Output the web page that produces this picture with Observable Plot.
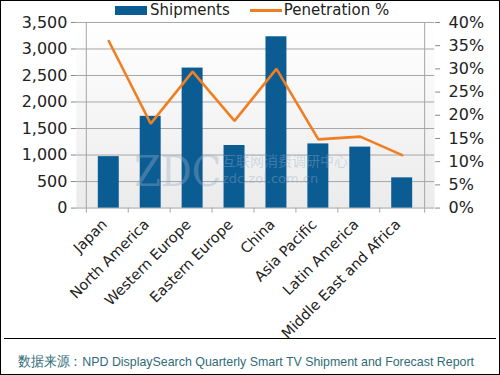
<!DOCTYPE html>
<html>
<head>
<meta charset="utf-8">
<script src="https://cdn.jsdelivr.net/npm/d3@7"></script>
<script src="https://cdn.jsdelivr.net/npm/@observablehq/plot@0.6"></script>
<style>
  html, body { margin: 0; padding: 0; background: #fff; }
  #wrap { position: relative; width: 500px; height: 375px; box-sizing: border-box; border: 1px solid #000; overflow: hidden; font-family: "DejaVu Sans", Verdana, sans-serif; }
  #chart { position: absolute; left: -1px; top: -1px; }
  #legend { position: absolute; top: 0px; left: 114px; font-size: 15px; color: #222; display: flex; align-items: center; height: 18px; }
  .sw { display: inline-block; width: 32px; height: 9px; background: #0b5c93; margin-right: 3px; }
  .ln { display: inline-block; width: 32px; height: 3px; background: #ef7f22; margin-left: 20px; margin-right: 2px; }
  #sep { position: absolute; left: 3px; right: 3px; top: 337px; border-top: 1px solid #000; }
  #caption { position: absolute; left: 17px; top: 352px; font-size: 13.5px; color: #2f6c78; font-family: "Liberation Sans", sans-serif; white-space: nowrap; transform-origin: 0 0; }
  .wm { position: absolute; color: rgba(150,175,200,0.4); pointer-events: none; white-space: nowrap; transform-origin: 0 0; }
  #wm1 { left: 133px; top: 146px; font-family: "DejaVu Serif", serif; font-size: 42px; transform: scaleX(0.92); }
  #wm2 { left: 221px; top: 151px; font-family: "Noto Sans CJK SC", sans-serif; font-size: 14px; line-height: 16px; }
  #wm3 { left: 221px; top: 170px; font-family: "DejaVu Sans", sans-serif; font-size: 13px; line-height: 15px; }
</style>
</head>
<body>
<div id="wrap">
  <div id="chart"></div>
  <div id="legend"><span class="sw"></span>Shipments<span class="ln"></span>Penetration %</div>
  <div class="wm" id="wm1">ZDC</div>
  <div class="wm" id="wm2">互联网消费调研中心</div>
  <div class="wm" id="wm3">zdc.zol.com.cn</div>
  <div id="sep"></div>
  <div id="caption">数据来源：NPD DisplaySearch Quarterly Smart TV Shipment and Forecast Report</div>
</div>
<script>
const regions = ["Japan", "North America", "Western Europe", "Eastern Europe", "China", "Asia Pacific", "Latin America", "Middle East and Africa"];
const shipments = [970, 1730, 2640, 1180, 3230, 1210, 1150, 570];
const penetration = [36.0, 18.2, 29.4, 18.8, 30.0, 14.8, 15.4, 11.4];
const leftTicks = [0, 500, 1000, 1500, 2000, 2500, 3000, 3500];
const rightTicks = [0, 5, 10, 15, 20, 25, 30, 35, 40];

const yMax = 3500, pMax = 40;
const toY = p => p * yMax / pMax;

const rows = regions.map((r, i) => ({region: r, ship: shipments[i], pen: toY(penetration[i])}));

const gradient = () => {
  const ns = "http://www.w3.org/2000/svg";
  const defs = document.createElementNS(ns, "defs");
  defs.innerHTML = '<linearGradient id="bg" x1="0" y1="0" x2="0" y2="1"><stop offset="0" stop-color="#ffffff"/><stop offset="1" stop-color="#ebebeb"/></linearGradient>';
  return defs;
};

const plot = Plot.plot({
  width: 500,
  height: 375,
  marginTop: 22,
  marginBottom: 167,
  marginLeft: 76,
  marginRight: 65,
  style: {fontFamily: "DejaVu Sans, Verdana, sans-serif", color: "#222", background: "transparent"},
  x: {domain: regions, padding: 0.51, align: 0.5},
  y: {domain: [0, yMax]},
  marks: [
    gradient,
    Plot.frame({fill: "url(#bg)", stroke: null}),
    Plot.ruleY(leftTicks, {stroke: "#a6a6a6", strokeWidth: 1}),
    Plot.ruleX([regions[0]], {dx: -22.5, stroke: "#a6a6a6"}),
    Plot.ruleX([regions[regions.length - 1]], {dx: 22.5, stroke: "#a6a6a6"}),
    Plot.barY(rows, {x: "region", y: "ship", fill: "#0b5c93"}),
    Plot.ruleX(regions, {x: d => d, y1: 0, y2: -95, dx: -22.5, stroke: "#a6a6a6"}),
    Plot.ruleX([regions[regions.length - 1]], {x: d => d, y1: 0, y2: -95, dx: 22.5, stroke: "#a6a6a6"}),
    Plot.line(rows, {x: "region", y: "pen", stroke: "#ef7f22", strokeWidth: 2.6, strokeLinejoin: "miter"}),
    Plot.axisY({anchor: "left", ticks: leftTicks, tickFormat: d3.format(","), tickSize: 5, tickPadding: 4, fontSize: 16, stroke: "#888", label: null}),
    Plot.axisY({anchor: "right", ticks: rightTicks.map(toY), tickFormat: d => Math.round(d * pMax / yMax) + "%", tickSize: 5, tickPadding: 9, fontSize: 16, stroke: "#888", label: null}),
    Plot.axisX({anchor: "bottom", tickSize: 0, tickPadding: 9, tickRotate: -45, fontSize: 14.5, dx: -4, dy: 5, label: null})
  ]
});
document.getElementById("chart").appendChild(plot);

// fit the source caption into the width it takes in the original
const cap = document.getElementById("caption");
const w = cap.getBoundingClientRect().width;
cap.style.transform = "scaleX(" + Math.min(1, 456 / w) + ")";
</script>
</body>
</html>
